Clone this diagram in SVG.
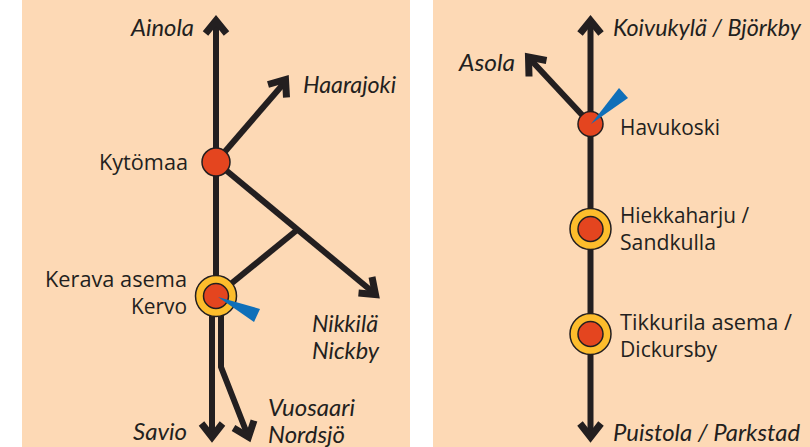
<svg xmlns="http://www.w3.org/2000/svg" width="810" height="447" viewBox="0 0 810 447">
<style>
.bg{fill:#fdd9b5}
.ln{fill:none;stroke:#231f20;stroke-width:6;stroke-linejoin:miter;stroke-linecap:butt}
.ah{fill:none;stroke:#231f20;stroke-width:7;stroke-linejoin:miter;stroke-linecap:butt}
.o{fill:#fdbd2c;stroke:#231f20;stroke-width:1.5}
.r{fill:#e4451f;stroke:#231f20;stroke-width:1.5}
.w{fill:#0f6fb9}
text{font-family:"Open Sans","Noto Sans",sans-serif;font-size:22px;fill:#231f20}
.i{font-family:Lato,"Open Sans",sans-serif;font-style:italic;font-size:22.500px}
</style>
<rect class="bg" x="22" y="0" width="388" height="447"/>
<rect class="bg" x="433" y="0" width="377" height="447"/>
<g id="connectors">
<path class="ln" d="M216 22V296"/>
<path class="ah" d="M205.500 33.500L216 20.500L226.500 33.500"/>
<path class="ln" d="M216 162L285 82"/>
<path class="ah" d="M268 84.500L285.500 79.500L286.500 97.500"/>
<path class="ln" d="M216 162L374 293"/>
<path class="ah" d="M358.500 293L375.500 294.500L372 277"/>
<path class="ln" d="M216 296L297 230"/>
<path class="ln" d="M212 296V436"/>
<path class="ah" d="M201.500 423.500L212 437L222.500 423.500"/>
<path class="ln" d="M221 296V367L248 436"/>
<path class="ah" d="M233.500 428L248.500 437L254 420.500"/>
<path class="ln" d="M590.500 22V436"/>
<path class="ah" d="M580 33.500L590.500 20.500L601 33.500"/>
<path class="ah" d="M580 423.500L590.500 437L601 423.500"/>
<path class="ln" d="M590.500 124L530 59"/>
<path class="ah" d="M546.500 60.500L528.500 57L529 76.500"/>
</g>
<g id="kytomaa"><circle class="r" cx="216" cy="162" r="14"/><text x="99" y="170" textLength="89" lengthAdjust="spacingAndGlyphs">Kytömaa</text></g>
<g id="kerava"><circle class="o" cx="216" cy="296" r="20.500"/><circle class="r" cx="216" cy="296" r="12.500"/><path class="w" d="M218 297L260 309L254 322Z"/><text x="45" y="287" textLength="142" lengthAdjust="spacingAndGlyphs">Kerava asema</text><text x="131" y="314" textLength="56" lengthAdjust="spacingAndGlyphs">Kervo</text></g>
<g id="havukoski"><circle class="r" cx="590.500" cy="124" r="12.500"/><path class="w" d="M591 124L619 88L628 98Z"/><text x="620" y="135" textLength="100" lengthAdjust="spacingAndGlyphs">Havukoski</text></g>
<g id="hiekkaharju"><circle class="o" cx="590.500" cy="229" r="20.500"/><circle class="r" cx="590.500" cy="229" r="12.500"/><text x="620" y="223" textLength="129" lengthAdjust="spacingAndGlyphs">Hiekkaharju /</text><text x="620" y="250" textLength="96" lengthAdjust="spacingAndGlyphs">Sandkulla</text></g>
<g id="tikkurila"><circle class="o" cx="590.500" cy="334" r="20.500"/><circle class="r" cx="590.500" cy="334" r="12.500"/><text x="620" y="330" textLength="172" lengthAdjust="spacingAndGlyphs">Tikkurila asema /</text><text x="620" y="357" textLength="97" lengthAdjust="spacingAndGlyphs">Dickursby</text></g>
<g id="ainola"><text class="i" x="131" y="36" textLength="63" lengthAdjust="spacingAndGlyphs">Ainola</text></g>
<g id="haarajoki"><text class="i" x="303" y="93" textLength="93" lengthAdjust="spacingAndGlyphs">Haarajoki</text></g>
<g id="nikkila"><text class="i" x="312" y="331.500" textLength="66" lengthAdjust="spacingAndGlyphs">Nikkilä</text><text class="i" x="312" y="358.500" textLength="67" lengthAdjust="spacingAndGlyphs">Nickby</text></g>
<g id="savio"><text class="i" x="133" y="440" textLength="54" lengthAdjust="spacingAndGlyphs">Savio</text></g>
<g id="vuosaari"><text class="i" x="268" y="415.500" textLength="87" lengthAdjust="spacingAndGlyphs">Vuosaari</text><text class="i" x="268" y="442.500" textLength="77" lengthAdjust="spacingAndGlyphs">Nordsjö</text></g>
<g id="koivukyla"><text class="i" x="613" y="36" textLength="188" lengthAdjust="spacingAndGlyphs">Koivukylä / Björkby</text></g>
<g id="asola"><text class="i" x="459" y="71" textLength="56" lengthAdjust="spacingAndGlyphs">Asola</text></g>
<g id="puistola"><text class="i" x="613" y="441" textLength="187" lengthAdjust="spacingAndGlyphs">Puistola / Parkstad</text></g>
</svg>
